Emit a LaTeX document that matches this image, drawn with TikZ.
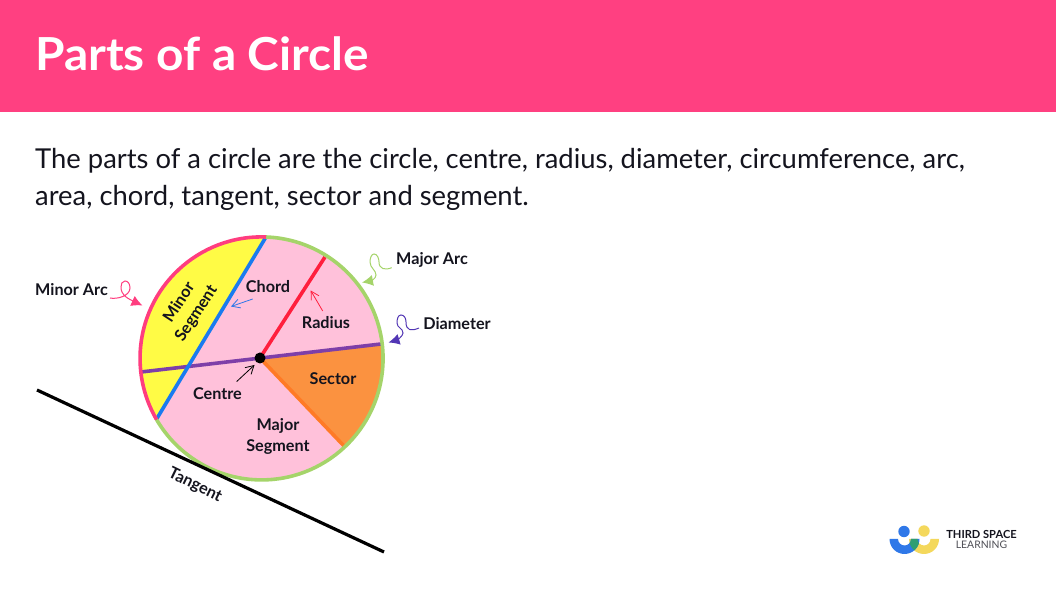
\documentclass[tikz,border=0pt]{standalone}
\usepackage{fontspec}
\setmainfont{Lato}
\newfontfamily\titlefont{Lato}[FakeStretch=1.05]
\usetikzlibrary{arrows.meta}
\definecolor{hdr}{HTML}{FF4081}
\definecolor{pinkf}{HTML}{FFC1DA}
\definecolor{yel}{HTML}{FFFB45}
\definecolor{org}{HTML}{FB9240}
\definecolor{orgl}{HTML}{FF7A26}
\definecolor{grn}{HTML}{A5D46A}
\definecolor{pnk}{HTML}{FF3D7F}
\definecolor{blu}{HTML}{1A7BEF}
\definecolor{purp}{HTML}{7E3FA8}
\definecolor{rd}{HTML}{FF1F3D}
\definecolor{vio}{HTML}{5236B5}
\definecolor{ink}{HTML}{14141E}
\definecolor{lblue}{HTML}{2F78E8}
\definecolor{lgreen}{HTML}{2E9E72}
\definecolor{lyel}{HTML}{F4D85C}
\tikzset{
 x=1pt,y=1pt,
 lab/.style={font=\fontsize{16.2}{20.5}\selectfont\bfseries,text=ink,align=center,inner sep=0pt},
 body/.style={font=\fontsize{27.4}{32}\selectfont,text=ink,anchor=base west,inner sep=0pt},
 part/.style={line width=3.6pt,line cap=butt},
 thinarrow/.style={line width=0.8pt,-{Straight Barb[length=8pt,width=9pt,line width=0.8pt]}},
 curlarrow/.style={line width=1pt,-{Latex[length=11pt,width=11pt]}},
}
\begin{document}
\begin{tikzpicture}
\useasboundingbox (0,0) rectangle (1056,599);
\fill[white] (0,0) rectangle (1056,599);
\fill[hdr] (0,487) rectangle (1056,599);
\node[anchor=base west,inner sep=0pt,text=white,font=\fontsize{45.5}{50}\titlefont\bfseries] (title) at (35,528) {Parts of a Circle};
\node[body] (line1) at (35,430) {The parts of a circle are the circle, centre, radius, diameter, circumference, arc,};
\node[body] (line2) at (35,393) {area, chord, tangent, sector and segment.};
% circle
\def\R{121.5}
\coordinate (O) at (261.5,240.5);
\coordinate (dotc) at (260,241);
\fill[pinkf] (O) circle (\R);
\coordinate (chordA) at (266,362);
\coordinate (chordB) at (156,179);
\coordinate (diaL) at (141,227);
\coordinate (diaR) at (381,255);
\coordinate (radE) at (325,342);
\coordinate (secE) at (344,153);
\fill[yel] (chordA) arc (87.9:210.2:\R) -- cycle;
\fill[org] (dotc) -- (diaR) arc (6.9:-46.7:\R) -- cycle;
\draw[part,purp] (diaL) -- (diaR);
\draw[part,orgl] (dotc) -- (secE);
\draw[part,rd] (dotc) -- (radE);
\draw[part,blu] (chordB) -- (chordA);
\draw[line width=3.6pt,grn] (chordA) arc (87.9:-149.8:\R);
\draw[line width=3.6pt,pnk] (chordA) arc (87.9:210.2:\R);
\fill[black] (dotc) circle (5.5);
% tangent
\coordinate (tanA) at (37,209);
\coordinate (tanB) at (384,47);
\draw[line width=3.2pt,black] (tanA) -- (tanB);
% labels
\node[lab,rotate=57,anchor=center] (minseg) at (188,291) {Minor\\Segment};
\node[lab] (chordl) at (268,312) {Chord};
\node[lab] (radl) at (326,276) {Radius};
\node[lab] (secl) at (333,220) {Sector};
\node[lab] (cenl) at (217.5,205) {Centre};
\node[lab] (majseg) at (278,162.5) {Major\\Segment};
\node[lab,rotate=-26] (tanl) at (195,113.5) {Tangent};
\node[lab] (minarc) at (71.5,309) {Minor Arc};
\node[lab] (majarc) at (432,339) {Major Arc};
\node[lab] (dial) at (457,275) {Diameter};
% arrows
\coordinate (a1) at (252.7,300); \coordinate (a2) at (231,292.5);
\draw[thinarrow,lblue] (a1) -- (a2);
\coordinate (b1) at (322.7,288); \coordinate (b2) at (310.7,308.5);
\draw[thinarrow,rd] (b1) -- (b2);
\coordinate (c1) at (236.7,217.5); \coordinate (c2) at (254.5,234);
\draw[thinarrow,black] (c1) -- (c2);
\coordinate (m0) at (110,301); \coordinate (m1) at (142.5,293.5);
\draw[curlarrow,pnk] (m0) .. controls (117,299.5) and (130,303) .. (130,311)
  .. controls (130,315) and (128,318) .. (125,318)
  .. controls (122,318) and (121,315) .. (121,312)
  .. controls (121,304) and (127,301) .. (131,299)
  .. controls (134,297.5) and (137,296) .. (m1);
\coordinate (j0) at (391.7,331.3); \coordinate (j1) at (362,316.5);
\draw[curlarrow,grn] (j0) .. controls (385,328.5) and (379,330) .. (379,337)
  .. controls (379,341) and (377,345) .. (374,345)
  .. controls (371.5,345) and (370,341) .. (370,337)
  .. controls (370,331) and (376,329) .. (376,324)
  .. controls (376,320) and (370,318) .. (j1);
\coordinate (d0) at (419,271); \coordinate (d1) at (388.5,256.5);
\draw[curlarrow,vio] (d0) .. controls (411,267.5) and (406,268.5) .. (406,277)
  .. controls (406,281) and (404,284) .. (401,284)
  .. controls (398,284) and (397,280) .. (397,276)
  .. controls (397,271) and (403,271) .. (403,266)
  .. controls (403,263) and (397,259) .. (d1);
% logo
\fill[lyel] (924,68) circle (5.7);
\fill[lblue] (904,67.5) circle (5.7);
\fill[lyel] (909,60) arc (180:360:15) -- (930.5,60) arc (0:-180:6.5) -- cycle;
\fill[lblue] (889.5,60) arc (180:360:15) -- (911,60) arc (0:-180:6.5) -- cycle;
\begin{scope}
\clip (889.5,60) arc (180:360:15) -- (911,60) arc (0:-180:6.5) -- cycle;
\fill[lgreen] (909,60) arc (180:360:15) -- (930.5,60) arc (0:-180:6.5) -- cycle;
\end{scope}
\node[inner sep=0pt,text=ink,font=\fontsize{11.1}{12}\selectfont\bfseries] (logoa) at (981.5,65) {THIRD SPACE};
\node[inner sep=0pt,text=ink!75,font=\fontsize{10.4}{12}\selectfont] (logob) at (981.5,54) {LEARNING};
\end{tikzpicture}
\end{document}
